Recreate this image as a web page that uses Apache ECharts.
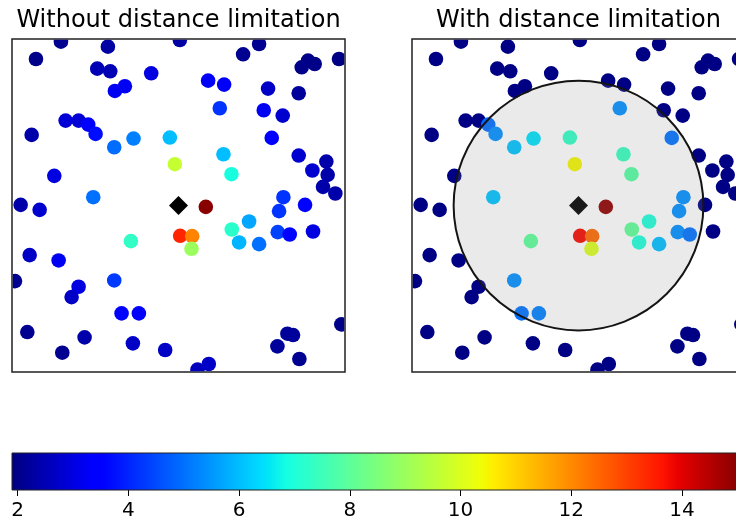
<!DOCTYPE html>
<html>
<head>
<meta charset="utf-8">
<script src="https://cdn.jsdelivr.net/npm/echarts@6/dist/echarts.min.js"></script>
<style>
html,body{margin:0;padding:0;background:#fff;}
#chart{width:736px;height:527px;}
</style>
</head>
<body>
<div id="chart"></div>
<script>
// ---- data ----
const pointX = [14.7,28.8,50.4,74.2,7.2,69.4,87.0,88.9,90.9,98.2,25.6,29.5,41.8,30.9,33.9,58.9,63.7,76.9,86.1,62.4,75.6,81.3,16.1,20.0,22.9,25.1,5.9,78.0,30.7,36.5,47.4,63.5,48.9,65.9,12.7,86.1,90.2,94.4,94.8,93.4,97.1,24.4,2.6,8.3,58.2,81.5,80.2,88.0,71.2,66.0,35.7,50.5,54.1,53.9,68.2,74.2,79.8,83.4,90.4,5.3,14.0,0.9,30.7,20.0,17.9,32.9,38.1,4.6,21.8,36.3,46.0,15.1,55.7,59.1,79.7,82.7,84.4,86.3,98.9];
const pointY = [99.2,97.7,99.7,98.5,94.0,95.4,91.5,93.5,92.5,94.0,91.1,90.3,89.7,84.4,85.8,87.5,86.3,85.1,83.7,79.2,78.6,77.0,75.5,75.5,74.3,71.5,71.2,70.3,67.5,70.1,70.4,65.4,62.4,59.4,58.9,65.0,60.5,63.2,59.2,55.6,53.6,52.5,50.2,48.7,49.6,52.5,48.3,50.2,45.2,42.8,39.3,40.9,40.8,37.0,38.9,38.4,42.0,41.3,42.2,35.1,33.5,27.3,27.5,25.6,22.5,17.6,17.6,12.0,10.4,8.6,6.6,5.8,0.7,2.4,7.7,11.5,11.1,3.9,14.3];
const valuesWithout = [2.1,2.3,2.3,2.1,2.0,2.1,2.0,2.0,2.0,1.95,2.5,2.5,3.0,3.2,3.2,3.3,3.3,2.7,2.2,4.2,3.2,2.8,2.9,2.9,3.5,3.7,2.4,3.4,4.95,5.2,6.0,6.0,9.7,6.9,3.0,2.8,2.8,2.4,2.4,2.4,2.4,5.0,2.4,2.8,15.0,4.2,4.2,3.4,5.7,7.2,7.3,13.4,12.1,9.0,5.9,5.0,4.4,3.6,3.0,2.7,3.2,2.1,4.3,3.0,2.7,3.4,3.4,2.1,2.4,2.7,2.7,2.1,2.6,2.7,2.2,2.2,2.2,2.1,2.0];
const valuesWith = [1.95,1.95,1.95,1.95,1.95,1.95,1.95,1.95,1.95,1.95,1.95,1.95,1.95,1.95,1.95,1.95,1.95,1.95,1.95,5.4,1.95,1.95,1.95,1.95,4.95,5.4,1.95,5.0,6.05,6.45,7.3,7.4,10.45,7.85,1.95,1.95,1.95,1.95,1.95,1.95,1.95,6.05,1.95,1.95,14.9,5.4,5.4,1.95,7.0,8.05,8.0,13.75,12.45,10.0,7.0,6.0,5.4,5.0,1.95,1.95,1.95,1.95,5.4,1.95,1.95,5.0,5.2,1.95,1.95,1.95,1.95,1.95,1.95,1.95,1.95,1.95,1.95,1.95,1.95];
const targetX = [50];
const targetY = [50];
const limitRadius = [37.5];
const colorRange = [1.9, 15.1];
const tickLabels = [2, 4, 6, 8, 10, 12, 14];
const titles = ['Without distance limitation', 'With distance limitation'];

// ---- jet colormap ----
function interp(t, pts) {
  for (let i = 1; i < pts.length; i++) {
    if (t <= pts[i][0]) {
      const a = pts[i - 1], b = pts[i];
      return a[1] + (b[1] - a[1]) * (t - a[0]) / (b[0] - a[0]);
    }
  }
  return pts[pts.length - 1][1];
}
function jet(t) {
  const r = interp(t, [[0,0],[0.35,0],[0.66,1],[0.89,1],[1,0.5]]);
  const g = interp(t, [[0,0],[0.125,0],[0.375,1],[0.64,1],[0.91,0],[1,0]]);
  const b = interp(t, [[0,0.5],[0.11,1],[0.34,1],[0.65,0],[1,0]]);
  return 'rgb(' + Math.round(r*255) + ',' + Math.round(g*255) + ',' + Math.round(b*255) + ')';
}
const jetSamples = [];
for (let i = 0; i <= 255; i++) jetSamples.push(jet(i / 255));
const jetStops = [0,0.11,0.125,0.34,0.35,0.375,0.64,0.65,0.66,0.89,0.91,1].map(t => ({offset: t, color: jet(t)}));

const leftData = pointX.map((x, i) => [x, pointY[i], valuesWithout[i]]);
const rightData = pointX.map((x, i) => [x, pointY[i], valuesWith[i]]);
const targetData = targetX.map((x, i) => [x, targetY[i]]);
const circleData = targetX.map((x, i) => [x, targetY[i], limitRadius[i]]);

function renderPoint(params, api) {
  const c = api.coord([api.value(0), api.value(1)]);
  const cs = params.coordSys;
  const inset = 0.8;
  return {
    type: 'group',
    clipPath: {type: 'rect', shape: {x: cs.x + inset, y: cs.y + inset, width: cs.width - 2*inset, height: cs.height - 2*inset}},
    children: [{
      type: 'circle',
      shape: {cx: c[0], cy: c[1], r: 7.3},
      style: {fill: api.visual('color')}
    }]
  };
}
function renderCircle(params, api) {
  const c = api.coord([api.value(0), api.value(1)]);
  const r = api.size([api.value(2), 0])[0];
  return {
    type: 'circle',
    shape: {cx: c[0], cy: c[1], r: r},
    style: {fill: 'rgba(140,140,140,0.18)', stroke: '#141414', lineWidth: 2}
  };
}
function renderBar(params, api) {
  const p0 = api.coord([api.value(0), 1]);
  const p1 = api.coord([api.value(1), 0]);
  return {
    type: 'rect',
    shape: {x: p0[0], y: p0[1], width: p1[0] - p0[0], height: p1[1] - p0[1]},
    style: {fill: new echarts.graphic.LinearGradient(0, 0, 1, 0, jetStops), stroke: '#222', lineWidth: 1}
  };
}

const chart = echarts.init(document.getElementById('chart'), null, {renderer: 'canvas'});
const font = 'DejaVu Sans';
const hiddenAxis = (gi) => ({gridIndex: gi, type: 'value', min: 0, max: 100, show: false});
chart.setOption({
  animation: false,
  backgroundColor: '#fff',
  title: [
    {text: titles[0], left: 178.5, top: 9, padding: 0, textAlign: 'center',
     textStyle: {fontFamily: font, fontSize: 24, fontWeight: 'normal', color: '#000'}},
    {text: titles[1], left: 578.5, top: 9, padding: 0, textAlign: 'center',
     textStyle: {fontFamily: font, fontSize: 24, fontWeight: 'normal', color: '#000'}}
  ],
  grid: [
    {left: 12, top: 39, width: 333, height: 333, outerBoundsMode: 'none', containLabel: false, show: true, borderColor: '#222', borderWidth: 1.5, backgroundColor: 'transparent'},
    {left: 412, top: 39, width: 333, height: 333, outerBoundsMode: 'none', containLabel: false, show: true, borderColor: '#222', borderWidth: 1.5, backgroundColor: 'transparent'},
    {left: 12, top: 453, width: 731, height: 37, outerBoundsMode: 'none', containLabel: false}
  ],
  xAxis: [hiddenAxis(0), hiddenAxis(1), {
    gridIndex: 2, type: 'value', min: colorRange[0], max: colorRange[1],
    axisLine: {show: false},
    splitLine: {show: false},
    axisTick: {show: true, customValues: tickLabels, length: 6, lineStyle: {color: '#000', width: 1}},
    axisLabel: {show: true, customValues: tickLabels, margin: 11, fontFamily: font, fontSize: 20, color: '#000'}
  }],
  yAxis: [hiddenAxis(0), hiddenAxis(1), {gridIndex: 2, type: 'value', min: 0, max: 1, show: false}],
  visualMap: {
    show: false, type: 'continuous', min: colorRange[0], max: colorRange[1],
    dimension: 2, seriesIndex: [0, 2], inRange: {color: jetSamples}
  },
  series: [
    {type: 'custom', xAxisIndex: 0, yAxisIndex: 0, renderItem: renderPoint, data: leftData, z: 2},
    {type: 'scatter', xAxisIndex: 0, yAxisIndex: 0, symbol: 'diamond', symbolSize: 19, itemStyle: {color: '#000', opacity: 1}, data: targetData, z: 3},
    {type: 'custom', xAxisIndex: 1, yAxisIndex: 1, renderItem: renderPoint, data: rightData, z: 2},
    {type: 'scatter', xAxisIndex: 1, yAxisIndex: 1, symbol: 'diamond', symbolSize: 19, itemStyle: {color: '#000', opacity: 1}, data: targetData, z: 3},
    {type: 'custom', xAxisIndex: 1, yAxisIndex: 1, renderItem: renderCircle, data: circleData, z: 4, silent: true},
    {type: 'custom', xAxisIndex: 2, yAxisIndex: 2, renderItem: renderBar, data: [[colorRange[0], colorRange[1]]], z: 2, silent: true}
  ]
});
</script>
</body>
</html>
